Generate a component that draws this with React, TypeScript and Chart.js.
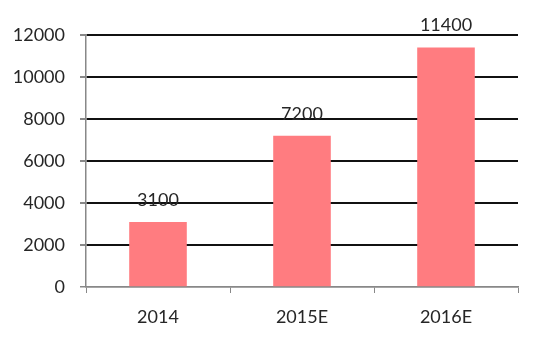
import React, { useEffect, useRef } from "react";
import { Chart, registerables } from "chart.js";

Chart.register(...registerables);

const categories = ["2014", "2015E", "2016E"];
const values = [3100, 7200, 11400];
const yTicks = [0, 2000, 4000, 6000, 8000, 10000, 12000];

const FONT = "Lato, 'Open Sans', sans-serif";

const valueLabels = {
  id: "valueLabels",
  afterDatasetsDraw(chart: any) {
    const { ctx } = chart;
    const meta = chart.getDatasetMeta(0);
    ctx.save();
    ctx.font = `18px ${FONT}`;
    ctx.fillStyle = "#262626";
    ctx.textAlign = "center";
    ctx.textBaseline = "bottom";
    meta.data.forEach((bar: any, i: number) => {
      ctx.fillText(String(values[i]), bar.x, bar.y - 13);
    });
    ctx.restore();
  },
};

export default function App() {
  const ref = useRef<HTMLCanvasElement>(null);
  useEffect(() => {
    if (!ref.current) return;
    const chart = new Chart(ref.current, {
      type: "bar",
      data: {
        labels: categories,
        datasets: [
          {
            data: values,
            backgroundColor: "#FF7C80",
            borderWidth: 0,
            categoryPercentage: 1,
            barPercentage: 0.4,
          },
        ],
      },
      options: {
        animation: false,
        responsive: false,
        maintainAspectRatio: false,
        layout: { padding: { left: 0, right: 36, top: 35, bottom: 0 } },
        plugins: { legend: { display: false }, tooltip: { enabled: false } },
        scales: {
          x: {
            grid: {
              offset: true,
              drawOnChartArea: false,
              tickLength: 6,
              color: "#888",
              tickColor: "#888",
            },
            border: { color: "#888", width: 1.5 },
            ticks: {
              color: "#262626",
              font: { family: FONT, size: 18 },
              padding: 13,
            },
            afterFit(scale: any) {
              scale.height = 64;
            },
          },
          y: {
            min: 0,
            max: 12000,
            afterBuildTicks(scale: any) {
              scale.ticks = yTicks.map((v) => ({ value: v }));
            },
            grid: {
              color: (c: any) => (c.tick && c.tick.value === 0 ? "#888" : "#111"),
              lineWidth: (c: any) => (c.tick && c.tick.value === 0 ? 1.5 : 2),
              tickLength: 6,
              tickColor: "#888",
            },
            border: { color: "#888", width: 1.5 },
            ticks: {
              color: "#262626",
              font: { family: FONT, size: 18 },
              padding: 15,
              callback: (v: any) => String(v),
            },
            afterFit(scale: any) {
              scale.width = 86;
            },
          },
        },
      },
      plugins: [valueLabels],
    });
    return () => chart.destroy();
  }, []);
  return (
    <div style={{ position: "absolute", left: 0, top: 0, width: 554, height: 351, background: "#fff" }}>
      <canvas ref={ref} width={554} height={351} style={{ width: 554, height: 351 }} />
    </div>
  );
}
